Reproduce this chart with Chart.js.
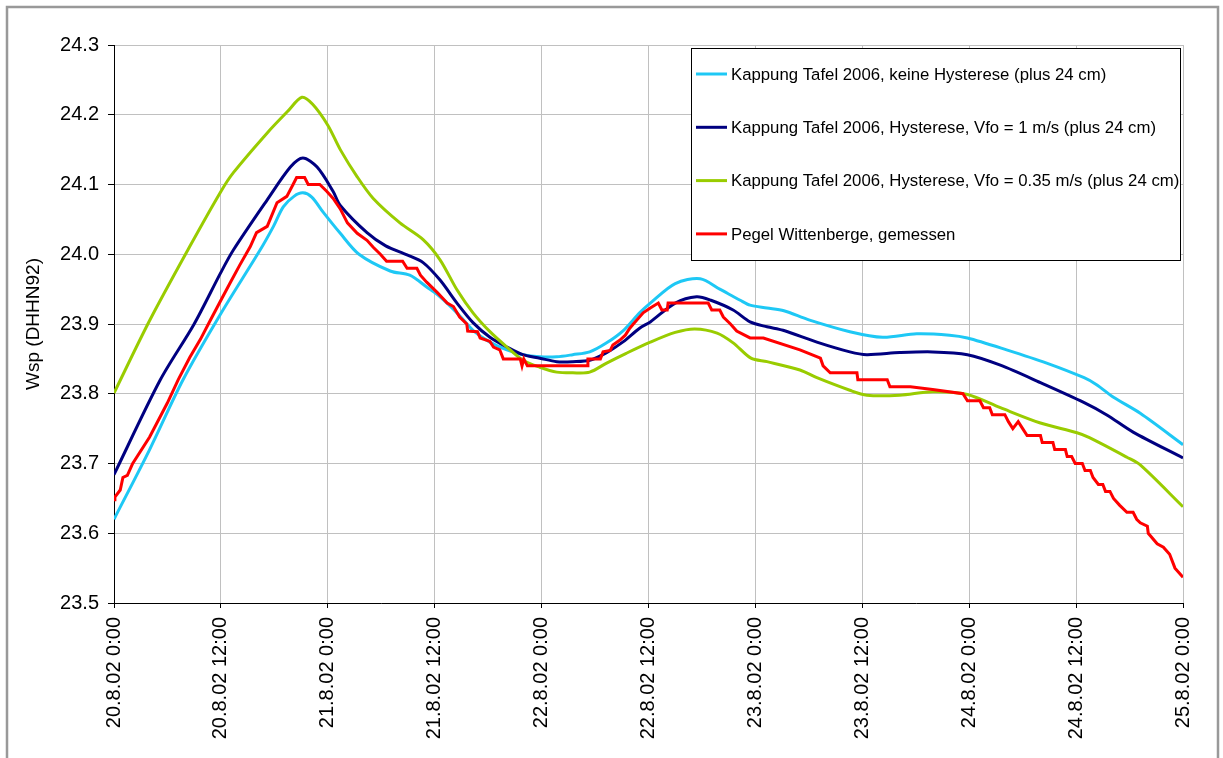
<!DOCTYPE html>
<html>
<head>
<meta charset="utf-8">
<script src="https://cdn.jsdelivr.net/npm/chart.js@4/dist/chart.umd.min.js"></script>
<style>
  html, body { margin: 0; padding: 0; background: #ffffff; }
  #wrap { position: relative; width: 1223px; height: 758px; }
</style>
</head>
<body>
<div id="wrap"><canvas id="c" width="1223" height="758"></canvas></div>
<script>
// Time axis: hours since 20.8.02 0:00, labelled every 12 hours
const timeLabels = ['20.8.02 0:00', '20.8.02 12:00', '21.8.02 0:00', '21.8.02 12:00',
  '22.8.02 0:00', '22.8.02 12:00', '23.8.02 0:00', '23.8.02 12:00',
  '24.8.02 0:00', '24.8.02 12:00', '25.8.02 0:00'];

const seriesNames = [
  'Kappung Tafel 2006, keine Hysterese (plus 24 cm)',
  'Kappung Tafel 2006, Hysterese, Vfo = 1 m/s (plus 24 cm)',
  'Kappung Tafel 2006, Hysterese, Vfo = 0.35 m/s (plus 24 cm)',
  'Pegel Wittenberge, gemessen'
];

// [hour, water level m]
const keineHysterese = [[0,23.620],[4,23.72],[7.75,23.82],[12,23.915],[16.4,24.006],[17.9,24.04],[19,24.068],
  [20.2,24.083],[21.2,24.088],[22.2,24.082],[23.5,24.06],[25.4,24.03],[27.5,24.0],[31,23.976],[33.2,23.97],
  [35.1,23.953],[36.6,23.939],[38.5,23.916],[40.3,23.891],[42.2,23.874],[44.1,23.863],[45.9,23.856],
  [47.8,23.853],[49.7,23.853],[51.5,23.856],[53.4,23.86],[55.3,23.873],[57.2,23.891],[59,23.916],
  [60.2,23.93],[63,23.958],[65.8,23.965],[68,23.95],[70.3,23.934],[71.4,23.927],[73.3,23.923],
  [75.2,23.919],[78,23.906],[82.6,23.889],[86.3,23.881],[90.1,23.886],[93.8,23.884],[95.8,23.88],
  [100.2,23.863],[104.7,23.844],[108.9,23.823],[110.3,23.813],[112.2,23.795],[115.2,23.772],[120,23.727]];

const hystereseVfo1 = [[0,23.684],[5.2,23.82],[9,23.90],[12,23.974],[13.4,24.006],[17.2,24.078],[19.8,24.125],
  [21.2,24.138],[22.8,24.125],[24.6,24.09],[25.4,24.07],[28.4,24.031],[30.5,24.012],[32.9,23.999],
  [34.7,23.988],[36.6,23.963],[38.5,23.930],[40.3,23.902],[42.2,23.881],[44.1,23.867],[45.9,23.856],
  [47.8,23.851],[49.7,23.846],[51.5,23.846],[53.4,23.848],[55.3,23.859],[57.1,23.874],[59,23.894],
  [60.2,23.903],[63,23.93],[65.4,23.939],[67,23.934],[69.5,23.92],[71.4,23.903],[73.3,23.896],
  [75.1,23.891],[78.9,23.874],[82.6,23.860],[84.5,23.856],[88.2,23.859],[91.9,23.860],[95.8,23.856],
  [99.5,23.841],[104,23.816],[108.8,23.788],[111.4,23.770],[114.4,23.745],[120,23.708]];

const hystereseVfo035 = [[0,23.801],[4,23.905],[8.5,24.011],[12,24.09],[13.4,24.117],[17.2,24.174],
  [19.5,24.205],[21.1,24.225],[22.3,24.215],[24,24.185],[25.4,24.15],[27.3,24.111],[29.1,24.08],
  [32.1,24.045],[34.7,24.021],[36.6,23.992],[38.5,23.949],[40.3,23.916],[42.2,23.889],[44.1,23.867],
  [45.9,23.848],[47.8,23.838],[49.7,23.831],[51.5,23.830],[53.4,23.831],[55.3,23.844],[57.5,23.858],
  [60.2,23.874],[63,23.888],[65.2,23.893],[67.7,23.887],[69.5,23.873],[71.5,23.851],[73.3,23.846],
  [77,23.834],[78.9,23.823],[82.6,23.805],[84.5,23.798],[88.2,23.798],[91.9,23.803],[95.8,23.799],
  [99.5,23.78],[104,23.758],[108.1,23.744],[109.5,23.737],[113.7,23.709],[115.2,23.698],[120,23.638]];

const gemessen = [[0,23.648],[0.1,23.652],[0.7,23.662],[1,23.68],[1.5,23.683],[2.1,23.70],[4,23.738],
  [6,23.787],[7.2,23.82],[8.5,23.852],[9.7,23.878],[10.8,23.905],[12,23.934],[13,23.958],[14.1,23.984],
  [15.3,24.011],[16,24.031],[17.2,24.04],[18.3,24.074],[19.4,24.083],[20.1,24.10],[20.5,24.11],
  [21.4,24.11],[21.8,24.10],[23.1,24.10],[23.9,24.09],[24.6,24.08],[25.4,24.065],[26.2,24.045],
  [27.3,24.03],[28.4,24.02],[29.1,24.01],[29.9,24.00],[30.6,23.99],[32.4,23.99],[32.9,23.98],
  [34,23.98],[34.4,23.97],[35.1,23.96],[36.3,23.945],[36.9,23.937],[37.4,23.93],[38.1,23.925],
  [38.8,23.91],[39.6,23.90],[39.7,23.89],[40.8,23.889],[41.1,23.88],[42.2,23.875],[42.6,23.867],
  [43.3,23.863],[43.7,23.85],[45.6,23.85],[45.8,23.84],[46,23.85],[46.4,23.84],[53.1,23.84],
  [53.2,23.85],[54.6,23.85],[54.9,23.86],[55.7,23.862],[56,23.87],[56.8,23.877],[57.4,23.884],
  [57.9,23.894],[58.3,23.90],[59.4,23.916],[60.2,23.923],[61.1,23.93],[61.5,23.92],[62.1,23.92],
  [62.2,23.93],[66.7,23.93],[67.1,23.92],[68,23.92],[68.4,23.91],[69.2,23.90],[69.9,23.89],
  [71.4,23.88],[72.9,23.88],[77,23.863],[79.3,23.851],[79.6,23.84],[80.4,23.83],[83.4,23.83],
  [83.5,23.82],[86.8,23.82],[87.1,23.81],[89.4,23.81],[91.9,23.806],[95.3,23.80],[95.8,23.79],
  [97.2,23.79],[97.6,23.78],[98.3,23.78],[98.6,23.77],[100,23.77],[100.4,23.76],[100.9,23.75],
  [101.5,23.76],[102,23.75],[102.5,23.74],[104,23.74],[104.2,23.73],[105.4,23.73],[105.6,23.72],
  [106.8,23.72],[107,23.71],[107.5,23.71],[107.9,23.70],[108.7,23.70],[109,23.69],[109.6,23.69],
  [109.9,23.68],[110.5,23.67],[111,23.67],[111.3,23.66],[111.8,23.66],[112.2,23.65],[112.9,23.64],
  [113.7,23.63],[114.4,23.63],[114.8,23.62],[115.2,23.615],[116,23.61],[116.1,23.60],[117.1,23.585],
  [117.8,23.58],[118.5,23.57],[119.1,23.55],[120,23.537]];

const seriesColors = ['#1ec8f5', '#000080', '#99cc00', '#ff0000'];

const FONT = "'Liberation Sans', Arial, sans-serif";
const toXY = arr => arr.map(p => ({ x: p[0], y: p[1] }));

// Outer frame and the boxed legend in the upper right
const framePlugin = {
  id: 'frame',
  afterDraw(chart) {
    const ctx = chart.ctx;
    ctx.save();
    ctx.strokeStyle = '#999999';
    ctx.lineWidth = 2.5;
    ctx.beginPath();
    ctx.moveTo(7, 770); ctx.lineTo(7, 7); ctx.lineTo(1218, 7); ctx.lineTo(1218, 770);
    ctx.stroke();

    // legend box
    const bx = 691.5, by = 48.5, bw = 489, bh = 212;
    ctx.fillStyle = '#ffffff';
    ctx.fillRect(bx, by, bw, bh);
    ctx.strokeStyle = '#000000';
    ctx.lineWidth = 1;
    ctx.strokeRect(bx, by, bw, bh);
    ctx.font = '16.75px ' + FONT;
    ctx.textBaseline = 'middle';
    ctx.textAlign = 'left';
    chart.data.datasets.forEach((ds, i) => {
      const y = 74 + i * 53.3;
      ctx.strokeStyle = ds.borderColor;
      ctx.lineWidth = 3;
      ctx.beginPath();
      ctx.moveTo(696, y); ctx.lineTo(727, y);
      ctx.stroke();
      ctx.fillStyle = '#000000';
      ctx.fillText(ds.label, 731, y + 1);
    });
    ctx.restore();
  }
};

const datasets = [keineHysterese, hystereseVfo1, hystereseVfo035, gemessen].map((arr, i) => ({
  label: seriesNames[i],
  data: toXY(arr),
  borderColor: seriesColors[i],
  backgroundColor: seriesColors[i],
  borderWidth: 3,
  pointRadius: 0,
  fill: false,
  tension: i === 3 ? 0 : 0.3,
  order: 3 - i
}));

new Chart(document.getElementById('c'), {
  type: 'line',
  data: { datasets },
  options: {
    responsive: false,
    devicePixelRatio: 1,
    animation: false,
    layout: { padding: { left: 0, top: 45, right: 40, bottom: 0 } },
    plugins: { legend: { display: false }, tooltip: { enabled: false } },
    scales: {
      x: {
        type: 'linear',
        min: 0, max: 120,
        afterFit: s => { s.height = 155; },
        afterBuildTicks: s => { s.ticks = timeLabels.map((_, i) => ({ value: i * 12 })); },
        ticks: {
          autoSkip: false,
          minRotation: 90, maxRotation: 90,
          padding: 9,
          color: '#000000',
          font: { family: FONT, size: 20 },
          callback: v => timeLabels[Math.round(v / 12)]
        },
        grid: { color: '#c0c0c0', lineWidth: 1, tickColor: '#000000', tickLength: 5 },
        border: { color: '#000000', width: 1 }
      },
      y: {
        min: 23.5, max: 24.3,
        afterFit: s => { s.width = 114; },
        ticks: {
          stepSize: 0.1,
          padding: 9,
          color: '#000000',
          font: { family: FONT, size: 20 },
          callback: v => Number(v).toFixed(1)
        },
        grid: { color: '#c0c0c0', lineWidth: 1, tickColor: '#000000', tickLength: 6 },
        border: { color: '#000000', width: 1 },
        title: {
          display: true,
          text: 'Wsp (DHHN92)',
          color: '#000000',
          font: { family: FONT, size: 19 },
          padding: { top: 22, bottom: 0 }
        }
      }
    }
  },
  plugins: [framePlugin]
});
</script>
</body>
</html>
